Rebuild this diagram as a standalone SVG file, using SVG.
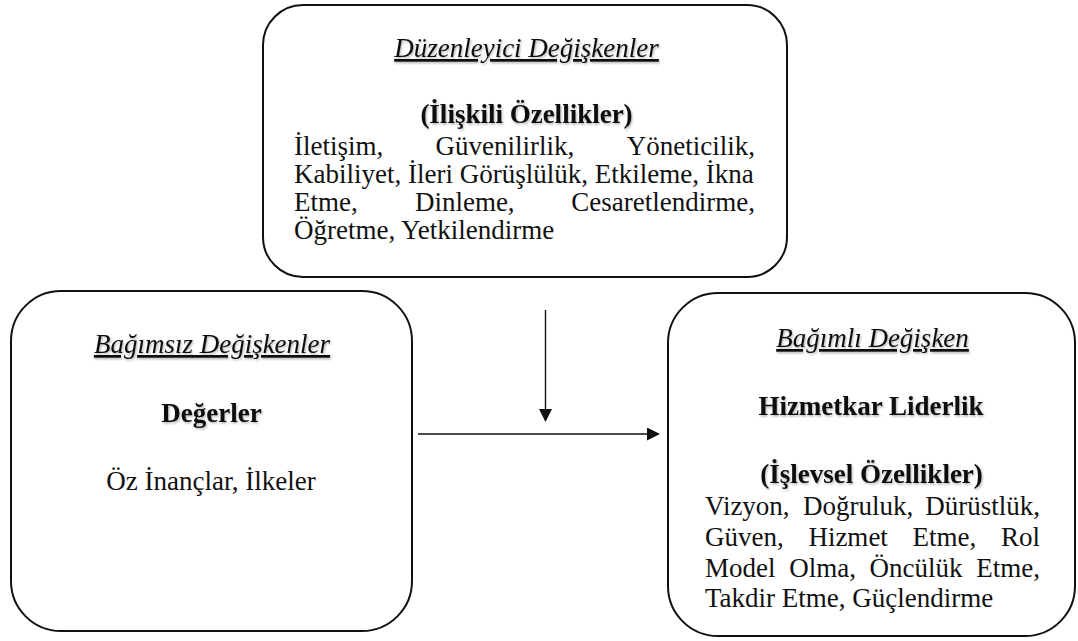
<svg xmlns="http://www.w3.org/2000/svg" width="1078" height="641" viewBox="0 0 1078 641">
  <defs>
    <style>
      .box { fill: #ffffff; stroke: #111111; stroke-width: 2; }
      .t { font-family: "Liberation Serif", "Times New Roman", serif; font-size: 27px; fill: #111111; }
      .title { font-style: italic; text-decoration: underline; text-anchor: middle; }
      .head { font-weight: bold; text-anchor: middle; }
      .mid { text-anchor: middle; }
      .end { text-anchor: end; }
      .link { stroke: #111111; stroke-width: 1.4; fill: none; }
    </style>
    <filter id="textShadow" x="-5%" y="-20%" width="110%" height="150%">
      <feDropShadow dx="1" dy="1.5" stdDeviation="1" flood-color="#000000" flood-opacity="0.3"/>
    </filter>
    <marker id="arrowHead" markerUnits="userSpaceOnUse" markerWidth="14" markerHeight="14" refX="11" refY="6.5" orient="auto">
      <path d="M0,0 L13,6.5 L0,13 Z" fill="#111111"/>
    </marker>
  </defs>

  <!-- moderator variables -->
  <g id="moderators">
    <rect class="box" x="263" y="5" width="524" height="272" rx="40" ry="40"/>
    <text class="t title" x="526.5" y="57" filter="url(#textShadow)">Düzenleyici Değişkenler</text>
    <text class="t head" x="526.5" y="123" filter="url(#textShadow)">(İlişkili Özellikler)</text>
    <text class="t" y="155">
      <tspan x="294">İletişim,</tspan>
      <tspan x="435.6">Güvenilirlik,</tspan>
      <tspan x="755" text-anchor="end">Yöneticilik,</tspan>
    </text>
    <text class="t" x="294" y="183">Kabiliyet, İleri Görüşlülük, Etkileme, İkna</text>
    <text class="t" y="211">
      <tspan x="294">Etme,</tspan>
      <tspan x="414.9">Dinleme,</tspan>
      <tspan x="755" text-anchor="end">Cesaretlendirme,</tspan>
    </text>
    <text class="t" x="294" y="239">Öğretme, Yetkilendirme</text>
  </g>

  <!-- independent variables -->
  <g id="independent">
    <rect class="box" x="11" y="291" width="401" height="340" rx="50" ry="50"/>
    <text class="t title" x="212" y="353" filter="url(#textShadow)">Bağımsız Değişkenler</text>
    <text class="t head" x="211.5" y="422" filter="url(#textShadow)">Değerler</text>
    <text class="t mid" x="211" y="490">Öz İnançlar, İlkeler</text>
  </g>

  <!-- dependent variable -->
  <g id="dependent">
    <rect class="box" x="668" y="293" width="407" height="343" rx="50" ry="50"/>
    <text class="t title" x="872.5" y="347" filter="url(#textShadow)">Bağımlı Değişken</text>
    <text class="t head" x="871" y="415" filter="url(#textShadow)">Hizmetkar Liderlik</text>
    <text class="t head" x="871.5" y="483" filter="url(#textShadow)">(İşlevsel Özellikler)</text>
    <text class="t" y="515">
      <tspan x="705">Vizyon,</tspan>
      <tspan x="803.1">Doğruluk,</tspan>
      <tspan x="1040" text-anchor="end">Dürüstlük,</tspan>
    </text>
    <text class="t" y="546">
      <tspan x="705">Güven,</tspan>
      <tspan x="808.4">Hizmet</tspan>
      <tspan x="912.6">Etme,</tspan>
      <tspan x="1040" text-anchor="end">Rol</tspan>
    </text>
    <text class="t" y="577">
      <tspan x="705">Model</tspan>
      <tspan x="789.2">Olma,</tspan>
      <tspan x="869.6">Öncülük</tspan>
      <tspan x="1040" text-anchor="end">Etme,</tspan>
    </text>
    <text class="t" x="705" y="607">Takdir Etme, Güçlendirme</text>
  </g>

  <!-- connectors -->
  <g id="connectors">
    <line class="link" x1="545.5" y1="310" x2="545.5" y2="420" marker-end="url(#arrowHead)"/>
    <line class="link" x1="418" y1="434" x2="658" y2="434" marker-end="url(#arrowHead)"/>
  </g>
</svg>
